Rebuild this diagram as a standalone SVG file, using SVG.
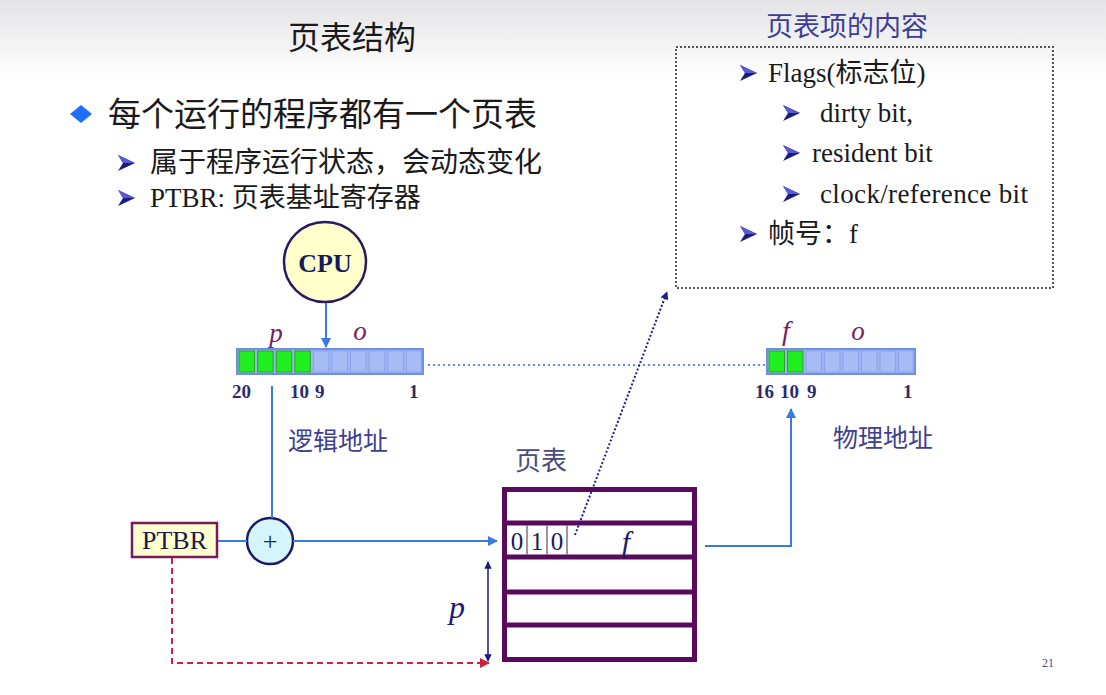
<svg xmlns="http://www.w3.org/2000/svg" width="1106" height="695" viewBox="0 0 1106 695">
<defs>
<linearGradient id="bg" x1="0" y1="0" x2="0" y2="1">
<stop offset="0" stop-color="#e4e4e6"/>
<stop offset="1" stop-color="#ffffff"/>
</linearGradient>
<marker id="ab" viewBox="0 0 10 10" refX="9" refY="5" markerWidth="5" markerHeight="5" orient="auto-start-reverse"><path d="M0,0 L10,5 L0,10 z" fill="#3a7ae0"/></marker>
<marker id="an" viewBox="0 0 10 10" refX="9" refY="5" markerWidth="5" markerHeight="5" orient="auto-start-reverse"><path d="M0,0 L10,5 L0,10 z" fill="#1a1a7a"/></marker>
<marker id="ar" viewBox="0 0 10 10" refX="9" refY="5" markerWidth="5" markerHeight="5" orient="auto"><path d="M0,0 L10,5 L0,10 z" fill="#d02040"/></marker>
<marker id="ad" viewBox="0 0 10 10" refX="9" refY="5" markerWidth="4" markerHeight="4" orient="auto"><path d="M0,0 L10,5 L0,10 z" fill="#1e1e88"/></marker>
<g id="chev"><polygon points="0,-8 17,0 0,8 5,0" fill="#1a1a80"/><polygon points="0,-8 17,0 5,0" fill="#5a5ad0"/></g>
</defs>
<style>
.cjk{font-family:"Liberation Serif","Noto Sans CJK SC",serif;}
.ser{font-family:"Liberation Serif","Noto Sans CJK SC",serif;}
.it{font-family:"Liberation Serif",serif;font-style:italic;}
.num{font-family:"Liberation Serif",serif;font-weight:bold;font-size:19px;fill:#2b2b6b;}
.gc{fill:#1fee1f;stroke:#2fa02f;stroke-width:1;}
.bc{fill:#a7bbf4;stroke:#8aa2ec;stroke-width:1;}
.reg{fill:#9fb4f2;stroke:#6f8fe6;stroke-width:2;}
.bl{fill:none;stroke:#3a7ae0;stroke-width:2;}
.pt{fill:none;stroke:#5a0a5a;stroke-width:5;}
</style>
<rect x="0" y="0" width="1106" height="695" fill="#ffffff"/>
<rect x="0" y="0" width="1106" height="80" fill="url(#bg)"/>

<g id="title"><text class="cjk" x="352" y="49" font-size="32" text-anchor="middle" fill="#1a1a1a">页表结构</text></g>

<g id="bullets">
<polygon points="70,114 81,105 92,114 81,123" fill="#1e6fff"/>
<text class="cjk" x="108" y="126" font-size="33" fill="#1a1a1a">每个运行的程序都有一个页表</text>
<use href="#chev" x="118" y="163"/>
<text class="cjk" x="150" y="172" font-size="28" fill="#1a1a1a">属于程序运行状态，会动态变化</text>
<use href="#chev" x="118" y="198"/>
<text class="cjk" x="150" y="207" font-size="27" fill="#1a1a1a">PTBR: 页表基址寄存器</text>
</g>

<g id="pte-box">
<text class="cjk" x="847" y="36" font-size="27" text-anchor="middle" fill="#3d3d99">页表项的内容</text>
<rect x="676" y="47" width="377" height="241" fill="none" stroke="#555" stroke-width="2" stroke-dasharray="2,2"/>
<use href="#chev" x="740" y="73"/>
<text class="ser" x="768" y="82" font-size="27" fill="#1a1a1a">Flags(标志位)</text>
<use href="#chev" x="783" y="113"/>
<text class="ser" x="820" y="122" font-size="27" fill="#1a1a1a">dirty bit,</text>
<use href="#chev" x="783" y="153"/>
<text class="ser" x="812" y="162" font-size="27" fill="#1a1a1a">resident bit</text>
<use href="#chev" x="783" y="194"/>
<text class="ser" x="820" y="203" font-size="27" fill="#1a1a1a" textLength="208" lengthAdjust="spacing">clock/reference bit</text>
<use href="#chev" x="740" y="234"/>
<text class="ser" x="768" y="243" font-size="27" fill="#1a1a1a">帧号：f</text>
</g>

<g id="cpu">
<ellipse cx="325" cy="262" rx="41" ry="40" fill="#ffffcc" stroke="#2a1a5e" stroke-width="2.5"/>
<text class="ser" x="325" y="272" font-size="26" font-weight="bold" text-anchor="middle" fill="#1a1a5a">CPU</text>
</g>

<g id="logical-address">
<text class="it" x="276" y="342" font-size="27" text-anchor="middle" fill="#7a2060">p</text>
<text class="it" x="360" y="340" font-size="27" text-anchor="middle" fill="#7a2060">o</text>
<rect class="reg" x="237" y="349" width="186" height="25"/>
<rect class="gc" x="239" y="351" width="15.5" height="21"/>
<rect class="gc" x="257.6" y="351" width="15.5" height="21"/>
<rect class="gc" x="276.2" y="351" width="15.5" height="21"/>
<rect class="gc" x="294.8" y="351" width="15.5" height="21"/>
<rect class="bc" x="313.4" y="351" width="15.5" height="21"/>
<rect class="bc" x="332" y="351" width="15.5" height="21"/>
<rect class="bc" x="350.6" y="351" width="15.5" height="21"/>
<rect class="bc" x="369.2" y="351" width="15.5" height="21"/>
<rect class="bc" x="387.8" y="351" width="15.5" height="21"/>
<rect class="bc" x="406.4" y="351" width="15" height="21"/>
<text class="num" x="232" y="398">20</text>
<text class="num" x="290" y="398">10</text>
<text class="num" x="315" y="398">9</text>
<text class="num" x="409" y="398">1</text>
<text class="cjk" x="288" y="450" font-size="25" fill="#3f3f8f">逻辑地址</text>
</g>

<g id="physical-address">
<text class="it" x="786" y="340" font-size="28" text-anchor="middle" fill="#7a2060">f</text>
<text class="it" x="858" y="340" font-size="27" text-anchor="middle" fill="#7a2060">o</text>
<rect class="reg" x="767" y="349" width="148" height="25"/>
<rect class="gc" x="769" y="351" width="15.5" height="21"/>
<rect class="gc" x="787.5" y="351" width="15.5" height="21"/>
<rect class="bc" x="806" y="351" width="15.5" height="21"/>
<rect class="bc" x="824.5" y="351" width="15.5" height="21"/>
<rect class="bc" x="843" y="351" width="15.5" height="21"/>
<rect class="bc" x="861.5" y="351" width="15.5" height="21"/>
<rect class="bc" x="880" y="351" width="15.5" height="21"/>
<rect class="bc" x="898.5" y="351" width="14.5" height="21"/>
<text class="num" x="755" y="398">16</text>
<text class="num" x="780" y="398">10</text>
<text class="num" x="807" y="398">9</text>
<text class="num" x="903" y="398">1</text>
<text class="cjk" x="833" y="447" font-size="25" fill="#3f3f8f">物理地址</text>
</g>

<g id="ptbr">
<rect x="132" y="523" width="85" height="34" fill="#ffffd0" stroke="#7a1a5a" stroke-width="2.5"/>
<text class="ser" x="174.5" y="549" font-size="26" text-anchor="middle" fill="#1a1a4a">PTBR</text>
</g>

<g id="adder">
<circle cx="270" cy="541" r="23" fill="#d6f5fa" stroke="#1a1a6a" stroke-width="2.5"/>
<text class="ser" x="270" y="550" font-size="26" text-anchor="middle" fill="#1a1a4a">+</text>
</g>

<g id="page-table">
<text class="cjk" x="515" y="470" font-size="26" fill="#4b4b7b">页表</text>
<rect class="pt" x="504.5" y="489.5" width="190" height="170"/>
<line class="pt" x1="504.5" y1="523" x2="694.5" y2="523"/>
<line class="pt" x1="504.5" y1="557" x2="694.5" y2="557"/>
<line class="pt" x1="504.5" y1="592" x2="694.5" y2="592"/>
<line class="pt" x1="504.5" y1="625" x2="694.5" y2="625"/>
<line x1="527" y1="525" x2="527" y2="555" stroke="#8a6a8a" stroke-width="1.5"/>
<line x1="547" y1="525" x2="547" y2="555" stroke="#8a6a8a" stroke-width="1.5"/>
<line x1="567" y1="525" x2="567" y2="555" stroke="#8a6a8a" stroke-width="1.5"/>
<text class="ser" x="517" y="550" font-size="25" text-anchor="middle" fill="#1a1a5a">0</text>
<text class="ser" x="537" y="550" font-size="25" text-anchor="middle" fill="#1a1a5a">1</text>
<text class="ser" x="557" y="550" font-size="25" text-anchor="middle" fill="#1a1a5a">0</text>
<text class="it" x="626" y="552" font-size="30" text-anchor="middle" fill="#1a1a6a">f</text>
</g>

<g id="p-offset">
<text class="it" x="457" y="618" font-size="32" text-anchor="middle" fill="#1a1a7a">p</text>
</g>

<g id="connectors">
<line class="bl" x1="326" y1="303" x2="326" y2="347" marker-end="url(#ab)"/>
<line x1="428" y1="365" x2="765" y2="365" stroke="#6a8ae0" stroke-width="2" stroke-dasharray="2,3"/>
<line class="bl" x1="272" y1="386" x2="272" y2="518"/>
<line class="bl" x1="218" y1="541" x2="247" y2="541"/>
<line class="bl" x1="293" y1="541" x2="497" y2="541" marker-end="url(#ab)"/>
<polyline class="bl" points="705,546 791,546 791,409" marker-end="url(#ab)"/>
<line x1="575" y1="535" x2="667" y2="292" stroke="#1e1e88" stroke-width="2" stroke-dasharray="2,2" marker-end="url(#ad)"/>
<line x1="488" y1="562" x2="488" y2="661" stroke="#1a1a7a" stroke-width="1.5" marker-start="url(#an)" marker-end="url(#an)"/>
<polyline points="172,558 172,663 489,663" fill="none" stroke="#d02040" stroke-width="2" stroke-dasharray="6,4" marker-end="url(#ar)"/>
</g>

<text class="ser" x="1048" y="667" font-size="12" text-anchor="middle" fill="#4a4a8a">21</text>
</svg>
